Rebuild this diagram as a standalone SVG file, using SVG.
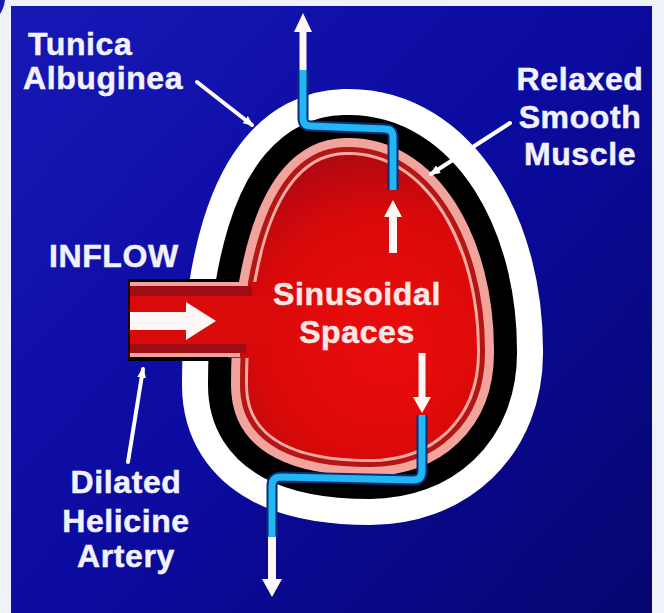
<svg xmlns="http://www.w3.org/2000/svg" width="664" height="613" viewBox="0 0 664 613">
  <defs>
    <linearGradient id="panelGrad" x1="0" y1="0" x2="664" y2="613" gradientUnits="userSpaceOnUse">
      <stop offset="0" stop-color="#1818b6"/>
      <stop offset="0.5" stop-color="#0b0ba0"/>
      <stop offset="1" stop-color="#05056e"/>
    </linearGradient>
    <radialGradient id="bloodGrad" cx="385" cy="340" r="230" gradientUnits="userSpaceOnUse">
      <stop offset="0" stop-color="#ec0c0c"/>
      <stop offset="0.55" stop-color="#d90909"/>
      <stop offset="1" stop-color="#980818"/>
    </radialGradient>
    <linearGradient id="tubeGrad" x1="0" y1="279" x2="0" y2="361" gradientUnits="userSpaceOnUse">
      <stop offset="0" stop-color="#8a0a12"/>
      <stop offset="0.22" stop-color="#a80c14"/>
      <stop offset="0.35" stop-color="#d80a0a"/>
      <stop offset="0.75" stop-color="#d80a0a"/>
      <stop offset="0.9" stop-color="#9a0a12"/>
      <stop offset="1" stop-color="#8a0a12"/>
    </linearGradient>
    <!-- outline of the sinusoidal cavity; the wall layers are strokes around it -->
    <path id="sac" d="M345,155 C425,152 477,245 477,350 C478,420 430,459 370,459 C300,459 248,440 248,385 C248,300 265,157 345,155 Z"/>
    <marker id="tip" viewBox="0 0 10 10" refX="8" refY="5" markerWidth="11" markerHeight="11" markerUnits="userSpaceOnUse" orient="auto">
      <path d="M0,1 L10,5 L0,9 Z" fill="#ffffff"/>
    </marker>
  </defs>
  <style>
    .label { font-family: "Liberation Sans", Arial, Helvetica, sans-serif; font-weight: bold; font-size: 32px; letter-spacing: 0.6px; fill: #f2f2ff; stroke: #f2f2ff; stroke-width: 0.5; }
    .inner { fill: #fce6e6; stroke: #fce6e6; }
    .wall { fill: none; stroke-linejoin: round; }
    .vein-out { fill: none; stroke: #0a2c78; stroke-width: 11; stroke-linecap: butt; stroke-linejoin: round; }
    .vein-in { fill: none; stroke: #22b6f2; stroke-width: 7; stroke-linecap: butt; stroke-linejoin: round; }
    .flow { fill: #fff6f6; }
    .pointer { fill: none; stroke: #ffffff; stroke-width: 4; stroke-linecap: round; }
  </style>

  <!-- page and panel -->
  <rect x="0" y="0" width="664" height="613" fill="#eef3fa"/>
  <rect x="11" y="6" width="641" height="607" fill="url(#panelGrad)"/>
  <path d="M0,0 L5,0 Q4,8 0,14 Z" fill="#1a1ab0"/>

  <!-- corpus cavernosum: tunica, smooth muscle and sinusoids -->
  <g id="corpus">
    <use href="#sac" class="wall" stroke="#ffffff" stroke-width="132"/>
    <use href="#sac" class="wall" stroke="#000000" stroke-width="80"/>
    <use href="#sac" class="wall" stroke="#f2a49c" stroke-width="34"/>
    <use href="#sac" class="wall" stroke="#b41616" stroke-width="16"/>
    <use href="#sac" class="wall" stroke="#f5aaa2" stroke-width="6"/>
    <use href="#sac" fill="url(#bloodGrad)"/>
  </g>

  <!-- helicine artery entering the sinusoids -->
  <g id="artery">
    <rect x="175" y="282" width="100" height="76" fill="url(#bloodGrad)"/>
    <rect x="128" y="279" width="104" height="3" fill="#000000"/>
    <rect x="128" y="282" width="120" height="4" fill="#f2a49c"/>
    <rect x="128" y="286" width="124" height="10" fill="#a00c14"/>
    <rect x="128" y="296" width="150" height="48" fill="#d80a0a"/>
    <rect x="128" y="344" width="118" height="9" fill="#a00c14"/>
    <rect x="128" y="353" width="112" height="4" fill="#f2a49c"/>
    <rect x="128" y="357" width="100" height="4" fill="#000000"/>
    <rect x="128" y="279" width="2" height="82" fill="#200008"/>
    <path class="flow" d="M130,312 H186 V302 L216,321 L186,340 V330 H130 Z"/>
  </g>

  <!-- emissary veins and flow arrows -->
  <g id="connectors">
    <path class="vein-out" d="M303,70 V118 Q303,126 311,126 L385,129 Q393,129 393,137 V190"/>
    <path class="vein-in" d="M303,70 V118 Q303,126 311,126 L385,129 Q393,129 393,137 V190"/>
    <path class="vein-out" d="M422,415 V471 Q422,480 413,480 L281,477 Q272,477 272,486 V537"/>
    <path class="vein-in" d="M422,415 V471 Q422,480 413,480 L281,477 Q272,477 272,486 V537"/>

    <path class="flow" d="M299.5,70 V32 H294 L303,13 L312,32 H306.5 V70 Z"/>
    <path class="flow" d="M389,253 V217 H384 L393,200 L402,217 H397 V253 Z"/>
    <path class="flow" d="M418.5,353 V397 H413 L422,413 L431,397 H425.5 V353 Z"/>
    <path class="flow" d="M268,537 V579 H262 L272,597 L282,579 H276 V537 Z"/>

    <line class="pointer" x1="197" y1="82" x2="252" y2="125" marker-end="url(#tip)"/>
    <line class="pointer" x1="510" y1="123" x2="431" y2="174" marker-end="url(#tip)"/>
    <line class="pointer" x1="128" y1="462" x2="143" y2="369" marker-end="url(#tip)"/>
  </g>

  <!-- labels -->
  <g id="label-tunica">
    <text class="label" x="28" y="55">Tunica</text>
    <text class="label" x="23" y="89">Albuginea</text>
  </g>
  <g id="label-muscle">
    <text class="label" x="580" y="90" text-anchor="middle">Relaxed</text>
    <text class="label" x="580" y="128" text-anchor="middle">Smooth</text>
    <text class="label" x="580" y="165" text-anchor="middle">Muscle</text>
  </g>
  <g id="label-inflow">
    <text class="label" x="49" y="267">INFLOW</text>
  </g>
  <g id="label-sinusoids">
    <text class="label inner" x="357" y="305" text-anchor="middle">Sinusoidal</text>
    <text class="label inner" x="357" y="343" text-anchor="middle">Spaces</text>
  </g>
  <g id="label-artery">
    <text class="label" x="126" y="493" text-anchor="middle">Dilated</text>
    <text class="label" x="126" y="532" text-anchor="middle">Helicine</text>
    <text class="label" x="126" y="567" text-anchor="middle">Artery</text>
  </g>
</svg>
